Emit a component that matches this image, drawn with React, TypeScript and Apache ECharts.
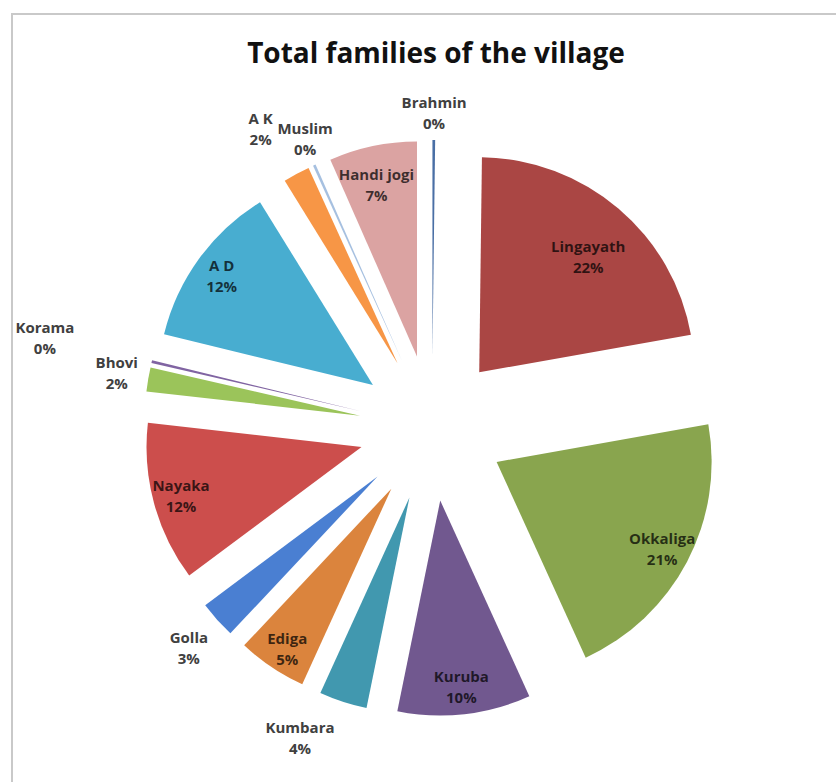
import React, { useEffect, useRef } from 'react';
import * as echarts from 'echarts';

const categories = ['Brahmin', 'Lingayath', 'Okkaliga', 'Kuruba', 'Kumbara', 'Ediga', 'Golla', 'Nayaka', 'Bhovi', 'Korama', 'A D', 'A K', 'Muslim', 'Handi jogi'];
const families = [1, 110, 105, 50, 18, 26, 14, 60, 9, 1, 62, 10, 1, 33];
const sliceColors = ['#4a6fa5', '#aa4644', '#89a54e', '#71588f', '#4198af', '#db843d', '#4a7fd2', '#cc4e4c', '#9bc45a', '#8064a2', '#48add0', '#f79646', '#a6c0e0', '#dba3a2'];
const labelInside = [false, true, true, true, false, true, false, true, false, false, true, false, false, true];
const labelNudge: Record<string, [number, number]> = {
  Lingayath: [-12, 27],
  Ediga: [0, 5],
  Golla: [3, 0],
  'Handi jogi': [-2, 11],
  Kumbara: [-30, -4],
  Korama: [-66, -14],
  Bhovi: [10, 0],
  'A K': [-16, -8],
  Brahmin: [0, 14],
  Muslim: [8, 12],
};

const CENTER = [432, 428];
const R = 215;
const EXPLODE = 73;
const FONT = '"Open Sans", Lato, sans-serif';

const fmt = (p: any) => `${p.name}\n${Math.round(p.percent)}%`;

export default function App() {
  const ref = useRef<HTMLDivElement>(null);
  useEffect(() => {
    if (!ref.current) return;
    const chart = echarts.init(ref.current, undefined, { renderer: 'svg' });

    const common = {
      type: 'pie' as const,
      center: CENTER,
      startAngle: 90,
      clockwise: true,
      selectedMode: 'multiple' as const,
      selectedOffset: EXPLODE,
      avoidLabelOverlap: false,
      silent: true,
      emphasis: { disabled: true },
      labelLine: { show: false },
      select: { itemStyle: { borderWidth: 0 } },
    };

    const labelSeries = (inside: boolean, radius: number[], color: string) => ({
      ...common,
      radius,
      z: 3,
      itemStyle: { color: 'rgba(0,0,0,0)', borderWidth: 0 },
      select: { itemStyle: { color: 'rgba(0,0,0,0)', borderWidth: 0 } },
      labelLayout: (p: any) => {
        const n = labelNudge[categories[p.dataIndex]];
        return n ? { dx: n[0], dy: n[1] } : {};
      },
      data: categories.map((name, i) => ({
        name,
        value: families[i],
        selected: true,
        label: {
          show: labelInside[i] === inside,
          position: 'inside',
          formatter: fmt,
          color,
          fontFamily: FONT,
          fontWeight: 'bold',
          fontSize: 15,
          lineHeight: 21,
          align: 'center',
        },
      })),
    });

    chart.setOption({
      animation: false,
      backgroundColor: '#ffffff',
      title: {
        text: 'Total families of the village',
        left: 431,
        top: 33,
        textAlign: 'center',
        textStyle: { fontFamily: FONT, fontWeight: 'bold', fontSize: 28, color: '#111111' },
      },
      graphic: [
        {
          type: 'rect',
          shape: { x: 12, y: 14, width: 900, height: 900 },
          style: { fill: 'none', stroke: '#c9c9c9', lineWidth: 2 },
          silent: true,
        },
      ],
      series: [
        {
          ...common,
          radius: [0, R],
          z: 2,
          label: { show: false },
          data: categories.map((name, i) => ({
            name,
            value: families[i],
            selected: true,
            itemStyle: { color: sliceColors[i], borderWidth: 0 },
          })),
        },
        labelSeries(true, [153, R], 'rgba(0,0,0,0.72)'),
        labelSeries(false, [234, 274], '#404040'),
      ],
    });
    return () => chart.dispose();
  }, []);
  return <div ref={ref} style={{ position: 'absolute', left: 0, top: 0, width: 836, height: 782 }} />;
}
